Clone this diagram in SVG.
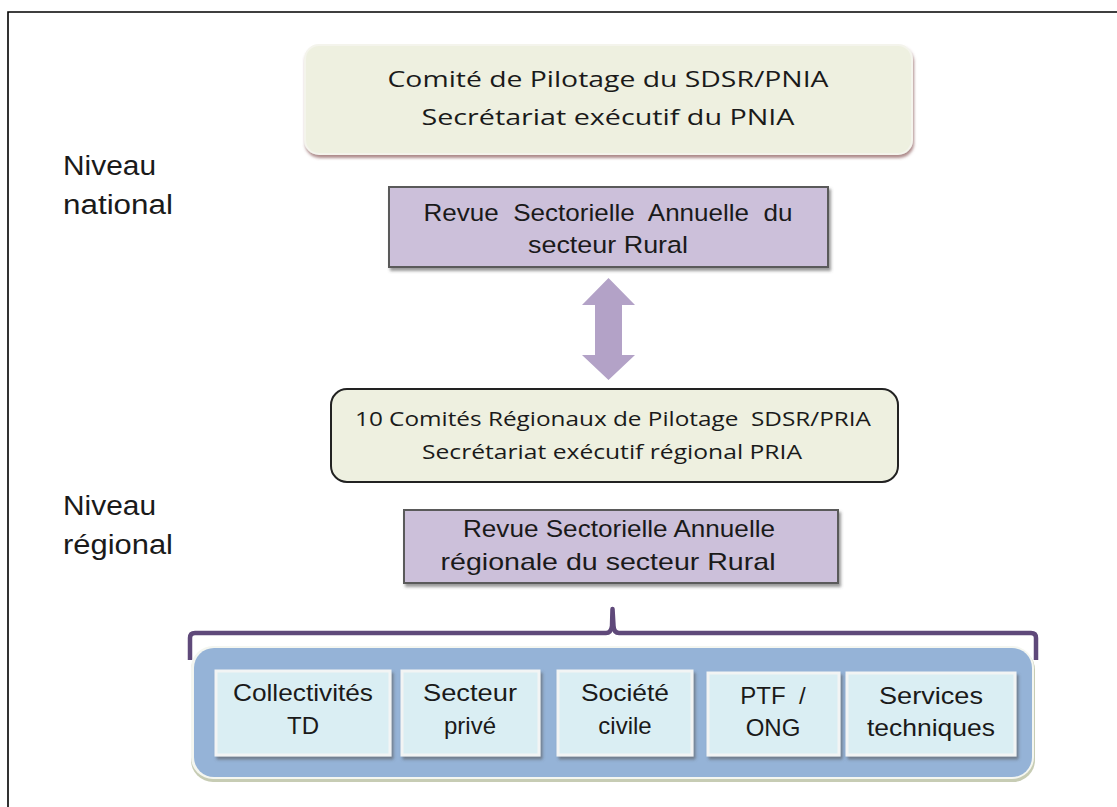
<svg xmlns="http://www.w3.org/2000/svg" width="1117" height="807" viewBox="0 0 1117 807">
<style>
.t{font-family:"Liberation Sans",Arial,sans-serif;fill:#1a1a1a;text-anchor:middle}
.c{font-family:"Open Sans","Noto Sans",sans-serif;fill:#1a1a1a;text-anchor:middle}
.lbl{font-family:"Liberation Sans",Arial,sans-serif;fill:#1a1a1a;font-size:27px}
.in{font-size:24px}
.rev{fill:#ccc0da;stroke:#5a5a5a;stroke-width:2}
.comite{fill:#eef0e0}
.inner{fill:#daeef3;stroke:#f2f4f4;stroke-width:3}
</style>
<defs>
<filter id="sh" x="-10%" y="-20%" width="120%" height="150%">
<feDropShadow dx="2" dy="3" stdDeviation="1.5" flood-color="#555" flood-opacity="0.6"/>
</filter>
<filter id="shr" x="-10%" y="-20%" width="120%" height="150%">
<feDropShadow dx="1" dy="3" stdDeviation="1.5" flood-color="#8b5a5a" flood-opacity="0.7"/>
</filter>
</defs>
<rect x="0" y="0" width="1117" height="807" fill="#fff"/>
<path d="M8 807 V12 H1117" fill="none" stroke="#000" stroke-width="1.6"/>

<g id="label-national">
<text class="lbl" x="63" y="175" textLength="93" lengthAdjust="spacingAndGlyphs">Niveau</text>
<text class="lbl" x="63" y="214" textLength="110" lengthAdjust="spacingAndGlyphs">national</text>
</g>
<g id="label-regional">
<text class="lbl" x="63" y="515" textLength="93" lengthAdjust="spacingAndGlyphs">Niveau</text>
<text class="lbl" x="63" y="554" textLength="110" lengthAdjust="spacingAndGlyphs">régional</text>
</g>

<g id="comite-national">
<rect x="305" y="45" width="607" height="109" rx="14" class="comite" stroke="#f4f4ec" stroke-width="2" filter="url(#shr)"/>
<text class="c" x="608" y="87" font-size="22.5" textLength="441" lengthAdjust="spacingAndGlyphs">Comité de Pilotage du SDSR/PNIA</text>
<text class="c" x="608" y="125" font-size="22.5" textLength="373" lengthAdjust="spacingAndGlyphs">Secrétariat exécutif du PNIA</text>
</g>

<g id="revue-nationale">
<rect x="389" y="187" width="439" height="80" class="rev" filter="url(#sh)"/>
<text class="t" x="608" y="221" font-size="24.5" textLength="369" lengthAdjust="spacingAndGlyphs" xml:space="preserve">Revue  Sectorielle  Annuelle  du</text>
<text class="t" x="608" y="253" font-size="24.5" textLength="160" lengthAdjust="spacingAndGlyphs">secteur Rural</text>
</g>

<g id="connectors">
<path d="M608.5 278 L635 305 L622 305 L622 355 L635 355 L608.5 380 L582 355 L595 355 L595 305 L582 305 Z" fill="#b3a2c7"/>
<path d="M190 660 V638 Q190 633 195 633 H606 Q611 633 612 626 L612.5 609 L613.5 626 Q614 633 619 633 H1031 Q1036 633 1036 638 V660" fill="none" stroke="#5f497a" stroke-width="4.5" stroke-linejoin="round"/>
</g>

<g id="comites-regionaux">
<rect x="331" y="389" width="567" height="93" rx="16" class="comite" stroke="#222" stroke-width="2"/>
<text class="c" x="613" y="426" font-size="20.5" textLength="516" lengthAdjust="spacingAndGlyphs" xml:space="preserve">10 Comités Régionaux de Pilotage  SDSR/PRIA</text>
<text class="c" x="612" y="459" font-size="20.5" textLength="380" lengthAdjust="spacingAndGlyphs">Secrétariat exécutif régional PRIA</text>
</g>

<g id="revue-regionale">
<rect x="404" y="510" width="434" height="73" class="rev" filter="url(#sh)"/>
<text class="t" x="619" y="537" font-size="24" textLength="312" lengthAdjust="spacingAndGlyphs">Revue Sectorielle Annuelle</text>
<text class="t" x="608" y="570" font-size="24" textLength="335" lengthAdjust="spacingAndGlyphs">régionale du secteur Rural</text>
</g>

<g id="acteurs">
<rect x="191" y="648" width="844" height="134" rx="22" fill="#c7ccb4"/>
<rect x="191" y="646" width="843" height="133" rx="22" fill="#f4f6f0"/>
<rect x="194" y="648" width="838" height="129" rx="20" fill="#95b3d7"/>
</g>

<g id="collectivites">
<rect x="216" y="671" width="174" height="84" class="inner" filter="url(#sh)"/>
<text class="t in" x="303" y="701" textLength="140" lengthAdjust="spacingAndGlyphs">Collectivités</text>
<text class="t in" x="303" y="734">TD</text>
</g>
<g id="secteur-prive">
<rect x="402" y="671" width="137" height="84" class="inner" filter="url(#sh)"/>
<text class="t in" x="470" y="701" textLength="94" lengthAdjust="spacingAndGlyphs">Secteur</text>
<text class="t in" x="470" y="734">privé</text>
</g>
<g id="societe-civile">
<rect x="558" y="671" width="134" height="84" class="inner" filter="url(#sh)"/>
<text class="t in" x="625" y="701" textLength="88" lengthAdjust="spacingAndGlyphs">Société</text>
<text class="t in" x="625" y="734">civile</text>
</g>
<g id="ptf-ong">
<rect x="708" y="673" width="131" height="82" class="inner" filter="url(#sh)"/>
<text class="t in" x="773" y="704" xml:space="preserve">PTF  /</text>
<text class="t in" x="773" y="736">ONG</text>
</g>
<g id="services-techniques">
<rect x="847" y="673" width="168" height="82" class="inner" filter="url(#sh)"/>
<text class="t in" x="931" y="704" textLength="104" lengthAdjust="spacingAndGlyphs">Services</text>
<text class="t in" x="931" y="736" textLength="128" lengthAdjust="spacingAndGlyphs">techniques</text>
</g>
</svg>
